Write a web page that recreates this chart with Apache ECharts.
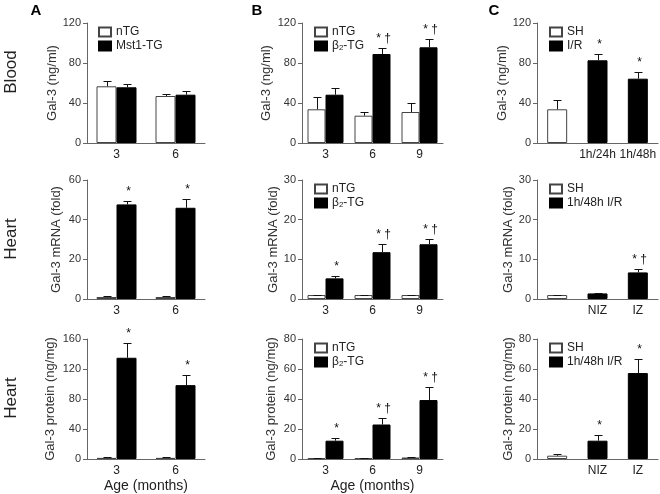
<!DOCTYPE html>
<html><head><meta charset="utf-8">
<script src="https://cdn.jsdelivr.net/npm/echarts@6/dist/echarts.min.js"></script>
<style>html,body{margin:0;padding:0;background:#fff}#c{width:660px;height:494px}</style>
</head><body><div id="c"></div>
<script>
// ---------- categories ----------
const ageA = ['3', '6'];
const ageB = ['3', '6', '9'];
const catsCBlood = ['', '1h/24h', '1h/48h'];
const catsCHeart = ['', 'NIZ', 'IZ'];

// ---------- Panel A (Mst1-TG) ----------
const aBloodNTG = [56.7, 47.0];   const aBloodNTGErr = [5.6, 2.3];
const aBloodTG  = [55.7, 48.3];   const aBloodTGErr  = [3.6, 4.0];
const aMrnaNTG  = [1.0, 1.0];     const aMrnaNTGErr  = [0.3, 0.3];
const aMrnaTG   = [47.7, 46.0];   const aMrnaTGErr   = [1.9, 4.6];
const aMrnaMark = ['*', '*'];
const aProtNTG  = [1.5, 1.5];     const aProtNTGErr  = [0.6, 0.6];
const aProtTG   = [135, 98.5];    const aProtTGErr   = [19.5, 13];
const aProtMark = ['*', '*'];

// ---------- Panel B (beta2-TG) ----------
const bBloodNTG = [33.7, 27.3, 31.0]; const bBloodNTGErr = [12.6, 3.4, 9.0];
const bBloodTG  = [48.3, 89.0, 95.7]; const bBloodTGErr  = [7.0, 5.7, 8.6];
const bBloodMark = ['', '* \u2020', '* \u2020'];
const bMrnaNTG  = [1.0, 1.0, 1.0];    const bMrnaNTGErr  = [0.1, 0.1, 0.1];
const bMrnaTG   = [5.2, 11.8, 13.8];  const bMrnaTGErr   = [0.55, 2.0, 1.4];
const bMrnaMark = ['*', '* \u2020', '* \u2020'];
const bProtNTG  = [0.5, 0.5, 1.0];    const bProtNTGErr  = [0.2, 0.2, 0.3];
const bProtTG   = [12.2, 23.0, 39.3]; const bProtTGErr   = [2.0, 4.2, 8.6];
const bProtMark = ['*', '* \u2020', '* \u2020'];

// ---------- Panel C (I/R) ----------
const cBloodSH = [33.7];        const cBloodSHErr = [9.0];
const cBloodIR = [82.7, 64.3];  const cBloodIRErr = [6.3, 6.4];
const cBloodMark = ['*', '*'];
const cMrnaSH  = [1.0];         const cMrnaSHErr  = [0.12];
const cMrnaIR  = [1.4, 6.7];    const cMrnaIRErr  = [0.12, 0.8];
const cMrnaMark = ['', '* \u2020'];
const cProtSH  = [2.2];         const cProtSHErr  = [1.3];
const cProtIR  = [12.2, 57.3];  const cProtIRErr  = [3.6, 9.4];
const cProtMark = ['*', '*'];

// ---------- y-axis ticks ----------
const yBlood = {min: 0, max: 120, interval: 40};
const yAMrna = {min: 0, max: 60, interval: 20};
const yBMrna = {min: 0, max: 30, interval: 10};
const yAProt = {min: 0, max: 160, interval: 40};
const yBProt = {min: 0, max: 80, interval: 20};

const FONT = 'Liberation Sans, Arial, Helvetica, sans-serif';
const TXT = '#222';
const AX = '#666';

const grids = [], xAxes = [], yAxes = [], series = [], legends = [];

const colLeft = [87, 302, 537];
const colWidth = [118, 141, 121];
const rowTop = [23, 180, 339];
const rowHeight = [120, 119, 120];

function addGrid(col, row, cats, yr, yName, yGap, xName) {
  const gi = grids.length;
  grids.push({left: colLeft[col], top: rowTop[row], width: colWidth[col], height: rowHeight[row]});
  xAxes.push({
    type: 'category', gridIndex: gi, data: cats,
    axisLine: {lineStyle: {color: AX}}, axisTick: {show: false},
    axisLabel: {fontSize: 12, color: TXT, margin: 6, fontFamily: FONT, interval: 0},
    name: xName || '', nameLocation: 'middle', nameGap: 20,
    nameTextStyle: {fontSize: 14, color: TXT, fontFamily: FONT}
  });
  yAxes.push({
    type: 'value', gridIndex: gi, min: yr.min, max: yr.max, interval: yr.interval,
    axisLine: {show: true, lineStyle: {color: AX}},
    axisTick: {show: true, length: 4, lineStyle: {color: AX}},
    splitLine: {show: false},
    axisLabel: {fontSize: 11, color: '#333', margin: 6, fontFamily: FONT},
    name: yName, nameLocation: 'middle', nameGap: yGap,
    nameTextStyle: {fontSize: 13, color: '#333', fontFamily: FONT}
  });
  return gi;
}

const whiteStyle = {color: '#fff', borderColor: '#444', borderWidth: 1};
const blackStyle = {color: '#000', borderColor: '#000', borderWidth: 1};

function errSeries(gi, off, vals, errs, marks, start) {
  const data = vals.map((v, i) => [i + start, v, errs[i]]);
  return {
    type: 'custom', name: 'err' + gi + '_' + off, xAxisIndex: gi, yAxisIndex: gi, z: 5,
    encode: {x: 0, y: 1}, silent: true, data: data,
    renderItem: function (params, api) {
      const i = api.value(0), v = api.value(1), e = api.value(2);
      const b = api.coord([i, v]);
      const t = api.coord([i, v + e]);
      const x = Math.round(b[0] + off) + 0.5;
      const yt = Math.round(t[1]) + 0.5;
      const ch = [
        {type: 'line', shape: {x1: x, y1: b[1], x2: x, y2: yt}, style: {stroke: '#111', lineWidth: 1}},
        {type: 'line', shape: {x1: x - 4, y1: yt, x2: x + 4, y2: yt}, style: {stroke: '#111', lineWidth: 1}}
      ];
      const m = marks ? marks[params.dataIndex] : '';
      if (m) {
        ch.push({type: 'text', style: {text: m, x: x + 1, y: yt - 10, align: 'center', verticalAlign: 'middle',
          fontSize: 12, fontFamily: FONT, fill: '#111'}});
      }
      return {type: 'group', children: ch};
    }
  };
}

function pairPanel(gi, bw, nName, tName, nV, nE, tV, tE, marks) {
  series.push({type: 'bar', name: nName, xAxisIndex: gi, yAxisIndex: gi, data: nV, barWidth: bw, barGap: '0%', itemStyle: whiteStyle, silent: true});
  series.push({type: 'bar', name: tName, xAxisIndex: gi, yAxisIndex: gi, data: tV, barWidth: bw, barGap: '0%', itemStyle: blackStyle, silent: true});
  series.push(errSeries(gi, -bw / 2, nV, nE, null, 0));
  series.push(errSeries(gi, bw / 2, tV, tE, marks, 0));
}

function cPanel(gi, bw, sName, iName, sV, sE, iV, iE, marks) {
  const sData = [sV[0], null, null];
  const iData = [null, iV[0], iV[1]];
  series.push({type: 'bar', name: sName, xAxisIndex: gi, yAxisIndex: gi, data: sData, barWidth: bw, barGap: '-100%', itemStyle: whiteStyle, silent: true});
  series.push({type: 'bar', name: iName, xAxisIndex: gi, yAxisIndex: gi, data: iData, barWidth: bw, barGap: '-100%', itemStyle: blackStyle, silent: true});
  series.push(errSeries(gi, 0, sV, sE, null, 0));
  series.push(errSeries(gi, 0, iV, iE, marks, 1));
}

function addLegend(left, top, names) {
  legends.push({
    data: names, left: left, top: top, orient: 'vertical', icon: 'rect',
    itemWidth: 12, itemHeight: 9, itemGap: 2, selectedMode: false,
    textStyle: {fontSize: 12, color: TXT, fontFamily: FONT,
      rich: {t: {fontSize: 12, color: TXT, fontFamily: FONT}, s: {fontSize: 8, color: TXT, fontFamily: FONT, verticalAlign: 'bottom', padding: [4, 0, 0, 0]}}},
    formatter: function (n) { return n === 'β2-TG' ? '{t|β}{s|2}{t|-TG}' : n; }
  });
}

// Row 1 Blood
let g;
g = addGrid(0, 0, ageA, yBlood, 'Gal-3 (ng/ml)', 28);
pairPanel(g, 20, 'nTG', 'Mst1-TG', aBloodNTG, aBloodNTGErr, aBloodTG, aBloodTGErr, null);
addLegend(93, 21, ['nTG', 'Mst1-TG']);
g = addGrid(1, 0, ageB, yBlood, 'Gal-3 (ng/ml)', 29);
pairPanel(g, 18, 'nTG', 'β2-TG', bBloodNTG, bBloodNTGErr, bBloodTG, bBloodTGErr, bBloodMark);
addLegend(309, 21, ['nTG', 'β2-TG']);
g = addGrid(2, 0, catsCBlood, yBlood, 'Gal-3 (ng/ml)', 24);
cPanel(g, 20, 'SH', 'I/R', cBloodSH, cBloodSHErr, cBloodIR, cBloodIRErr, cBloodMark);
addLegend(544, 21, ['SH', 'I/R']);

// Row 2 Heart mRNA
g = addGrid(0, 1, ageA, yAMrna, 'Gal-3 mRNA (fold)', 24);
pairPanel(g, 20, 'nTG', 'Mst1-TG', aMrnaNTG, aMrnaNTGErr, aMrnaTG, aMrnaTGErr, aMrnaMark);
g = addGrid(1, 1, ageB, yBMrna, 'Gal-3 mRNA (fold)', 15);
pairPanel(g, 18, 'nTG', 'β2-TG', bMrnaNTG, bMrnaNTGErr, bMrnaTG, bMrnaTGErr, bMrnaMark);
addLegend(309, 178, ['nTG', 'β2-TG']);
g = addGrid(2, 1, catsCHeart, yBMrna, 'Gal-3 mRNA (fold)', 19);
cPanel(g, 20, 'SH', '1h/48h I/R', cMrnaSH, cMrnaSHErr, cMrnaIR, cMrnaIRErr, cMrnaMark);
addLegend(544, 178, ['SH', '1h/48h I/R']);

// Row 3 Heart protein
g = addGrid(0, 2, ageA, yAProt, 'Gal-3 protein (ng/mg)', 30, 'Age (months)');
pairPanel(g, 20, 'nTG', 'Mst1-TG', aProtNTG, aProtNTGErr, aProtTG, aProtTGErr, aProtMark);
g = addGrid(1, 2, ageB, yBProt, 'Gal-3 protein (ng/mg)', 24, 'Age (months)');
pairPanel(g, 18, 'nTG', 'β2-TG', bProtNTG, bProtNTGErr, bProtTG, bProtTGErr, bProtMark);
addLegend(309, 337, ['nTG', 'β2-TG']);
g = addGrid(2, 2, catsCHeart, yBProt, 'Gal-3 protein (ng/mg)', 19);
cPanel(g, 20, 'SH', '1h/48h I/R', cProtSH, cProtSHErr, cProtIR, cProtIRErr, cProtMark);
addLegend(544, 337, ['SH', '1h/48h I/R']);

const rowLabel = (txt, cy) => ({type: 'text', x: 11, y: cy, rotation: Math.PI / 2,
  style: {text: txt, fontSize: 17, fontFamily: FONT, fill: TXT, align: 'center', verticalAlign: 'middle'}});
const panelLabel = (txt, cx) => ({type: 'text', x: cx, y: 11,
  style: {text: txt, fontSize: 15, fontWeight: 'bold', fontFamily: FONT, fill: '#000', align: 'center', verticalAlign: 'middle'}});

const chart = echarts.init(document.getElementById('c'), null, {renderer: 'canvas'});
chart.setOption({
  animation: false,
  backgroundColor: '#fff',
  grid: grids, xAxis: xAxes, yAxis: yAxes, series: series, legend: legends,
  graphic: [
    panelLabel('A', 36), panelLabel('B', 257), panelLabel('C', 494),
    rowLabel('Blood', 72), rowLabel('Heart', 239), rowLabel('Heart', 398)
  ]
});
</script></body></html>
